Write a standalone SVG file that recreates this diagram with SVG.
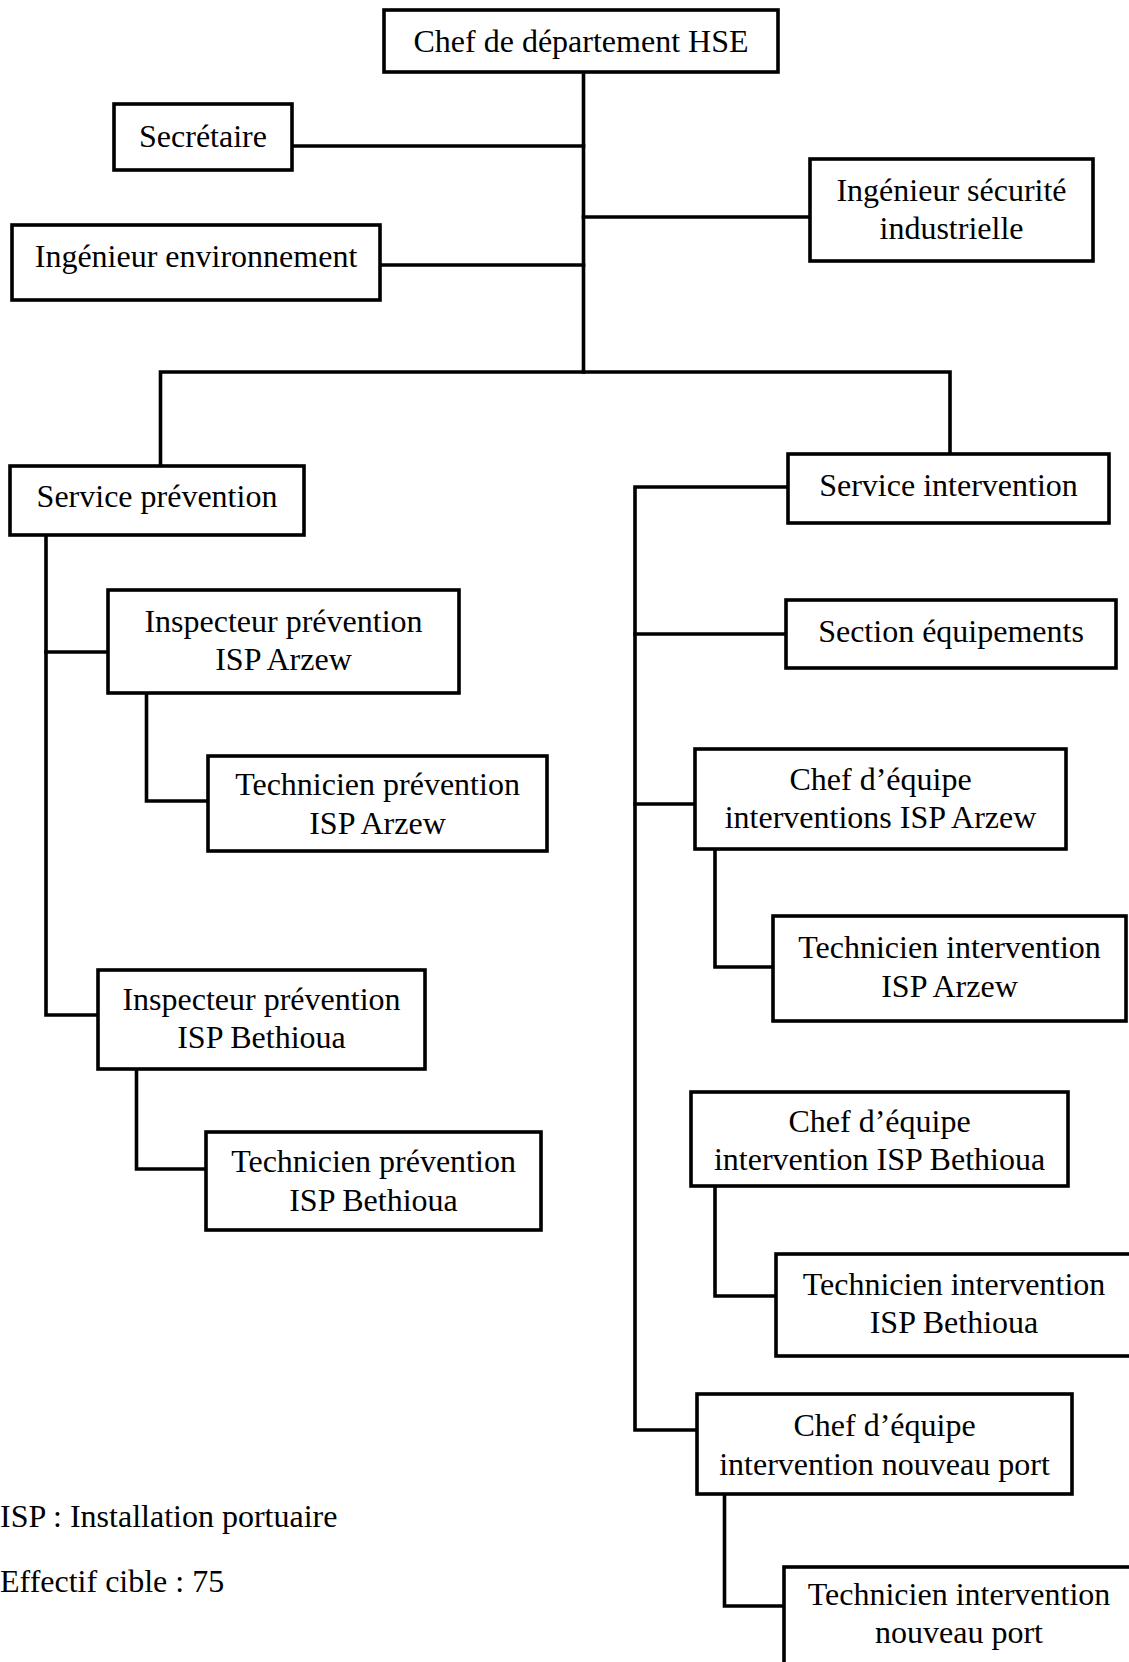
<svg xmlns="http://www.w3.org/2000/svg" width="1129" height="1662" viewBox="0 0 1129 1662">
<style>
.box{fill:#fff;stroke:#000;stroke-width:3.6}
.ln{fill:none;stroke:#000;stroke-width:3.6;stroke-linejoin:miter;stroke-linecap:square}
text{font-family:"Liberation Serif","Times New Roman",serif;font-size:32px;fill:#000}
.c{text-anchor:middle}
</style>
<rect width="1129" height="1662" fill="#fff"/>
<g id="connectors">
<path class="ln" d="M583.5,75 V372"/>
<path class="ln" d="M292,146 H583.5"/>
<path class="ln" d="M380,265 H583.5"/>
<path class="ln" d="M583.5,217 H810"/>
<path class="ln" d="M160.5,466 V372 H950 V454"/>
<path class="ln" d="M46,535 V1015 H98"/>
<path class="ln" d="M46,652 H108"/>
<path class="ln" d="M146.5,693 V801 H208"/>
<path class="ln" d="M136.5,1069 V1169 H206"/>
<path class="ln" d="M788,487 H635 V1430 H696"/>
<path class="ln" d="M635,634 H786"/>
<path class="ln" d="M635,804 H695"/>
<path class="ln" d="M715,849 V967 H773"/>
<path class="ln" d="M715,1186 V1296 H776"/>
<path class="ln" d="M724.5,1494 V1606 H784"/>
</g>
<g id="n-chef"><rect class="box" x="384" y="10" width="394" height="62"/><text class="c" x="581" y="52">Chef de département HSE</text></g>
<g id="n-secretaire"><rect class="box" x="114" y="104" width="178" height="66"/><text class="c" x="203" y="147">Secrétaire</text></g>
<g id="n-ing-env"><rect class="box" x="12" y="225" width="368" height="75"/><text class="c" x="196" y="267">Ingénieur environnement</text></g>
<g id="n-ing-secu"><rect class="box" x="810" y="159" width="283" height="102"/><text class="c" x="951.5" y="201">Ingénieur sécurité</text><text class="c" x="951.5" y="239">industrielle</text></g>
<g id="n-serv-prev"><rect class="box" x="10" y="466" width="294" height="69"/><text class="c" x="157" y="507">Service prévention</text></g>
<g id="n-serv-int"><rect class="box" x="788" y="454" width="321" height="69"/><text class="c" x="948.5" y="496">Service intervention</text></g>
<g id="n-section"><rect class="box" x="786" y="600" width="330" height="68"/><text class="c" x="951" y="642">Section équipements</text></g>
<g id="n-insp-arzew"><rect class="box" x="108" y="590" width="351" height="103"/><text class="c" x="283.5" y="632">Inspecteur prévention</text><text class="c" x="283.5" y="670">ISP Arzew</text></g>
<g id="n-tech-prev-arzew"><rect class="box" x="208" y="756" width="339" height="95"/><text class="c" x="377.5" y="795">Technicien prévention</text><text class="c" x="377.5" y="834">ISP Arzew</text></g>
<g id="n-insp-beth"><rect class="box" x="98" y="970" width="327" height="99"/><text class="c" x="261.5" y="1010">Inspecteur prévention</text><text class="c" x="261.5" y="1048">ISP Bethioua</text></g>
<g id="n-tech-prev-beth"><rect class="box" x="206" y="1132" width="335" height="98"/><text class="c" x="373.5" y="1172">Technicien prévention</text><text class="c" x="373.5" y="1211">ISP Bethioua</text></g>
<g id="n-chef-arzew"><rect class="box" x="695" y="749" width="371" height="100"/><text class="c" x="880.5" y="790">Chef d’équipe</text><text class="c" x="880.5" y="828">interventions ISP Arzew</text></g>
<g id="n-tech-int-arzew"><rect class="box" x="773" y="916" width="353" height="105"/><text class="c" x="949.5" y="958">Technicien intervention</text><text class="c" x="949.5" y="997">ISP Arzew</text></g>
<g id="n-chef-beth"><rect class="box" x="691" y="1092" width="377" height="94"/><text class="c" x="879.5" y="1132">Chef d’équipe</text><text class="c" x="879.5" y="1170">intervention ISP Bethioua</text></g>
<g id="n-tech-int-beth"><rect class="box" x="776" y="1254" width="356" height="102"/><text class="c" x="954" y="1295">Technicien intervention</text><text class="c" x="954" y="1333">ISP Bethioua</text></g>
<g id="n-chef-port"><rect class="box" x="697" y="1394" width="375" height="100"/><text class="c" x="884.5" y="1436">Chef d’équipe</text><text class="c" x="884.5" y="1475">intervention nouveau port</text></g>
<g id="n-tech-int-port"><rect class="box" x="784" y="1567" width="350" height="110"/><text class="c" x="959" y="1605">Technicien intervention</text><text class="c" x="959" y="1643">nouveau port</text></g>
<g id="legend"><text x="0" y="1527">ISP : Installation portuaire</text><text x="0" y="1592">Effectif cible : 75</text></g>
</svg>
